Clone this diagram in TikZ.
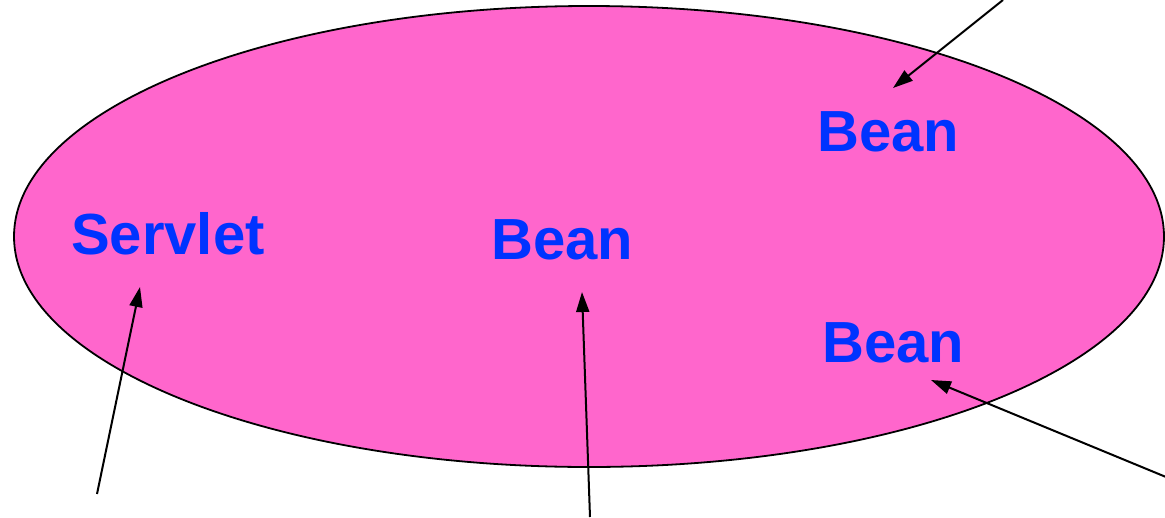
\documentclass[tikz,border=0pt]{standalone}
\usepackage{fontspec}
\setmainfont{Liberation Sans}
\usetikzlibrary{arrows.meta}
\definecolor{pinkfill}{HTML}{FF66CC}
\definecolor{labelblue}{HTML}{0033FF}
\begin{document}
\begin{tikzpicture}[x=1pt,y=-1pt,
  lbl/.style={anchor=base west,inner sep=0pt,text=labelblue,font=\fontsize{58}{60}\selectfont\bfseries},
  ptr/.style={line width=2pt,-{Triangle[length=20pt,width=13pt]}}]
\useasboundingbox (0,0) rectangle (1165,517);
\filldraw[fill=pinkfill,draw=black,line width=1.8pt] (589,236.5) ellipse [x radius=575, y radius=230.5];
\node[lbl] (servlet) at (71,254) {Servlet};
\node[lbl] (beanm) at (491,259) {Bean};
\node[lbl] (beant) at (817,151) {Bean};
\node[lbl] (beanb) at (822,362) {Bean};
\coordinate (t1) at (1003,0);
\coordinate (h1) at (893,88);
\coordinate (t2) at (97,494);
\coordinate (h2) at (140,287);
\coordinate (t3) at (590,517);
\coordinate (h3) at (582,292);
\coordinate (t4) at (1166,477);
\coordinate (h4) at (931,380);
\draw[ptr] (t1) -- (h1);
\draw[ptr] (t2) -- (h2);
\draw[ptr] (t3) -- (h3);
\draw[ptr] (t4) -- (h4);
\end{tikzpicture}
\end{document}
